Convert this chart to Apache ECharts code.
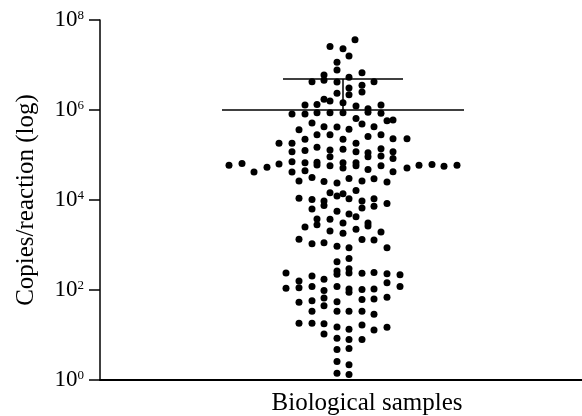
<!DOCTYPE html>
<html>
<head>
<meta charset="utf-8">
<script src="https://cdn.jsdelivr.net/npm/echarts@6/dist/echarts.min.js"></script>
<style>
  html, body { margin: 0; padding: 0; background: #fff; }
  #chart { width: 582px; height: 416px; }
</style>
</head>
<body>
<div id="chart"></div>
<script>
// swarm position (horizontal jitter of the beeswarm) and log10(copies/reaction)
const swarmX = [
  255, 230, 243, 249, 237, 237, 224, 262, 212, 224, 237, 249, 274, 262, 249, 237, 249, 262, 224, 230,
  243, 205, 217, 256, 268, 281, 192, 205, 217, 230, 243, 268, 281, 256, 287, 293, 199, 212, 224, 237,
  249, 262, 274, 205, 217, 230, 243, 268, 281, 293, 307, 179, 192, 217, 230, 243, 256, 268, 268, 281,
  281, 293, 293, 192, 205, 230, 256, 129, 142, 154, 167, 179, 192, 205, 217, 217, 230, 243, 243, 256,
  256, 268, 281, 293, 307, 319, 332, 344, 357, 192, 205, 199, 212, 224, 237, 249, 262, 274, 287, 230,
  237, 243, 256, 199, 212, 224, 224, 249, 262, 274, 287, 212, 237, 249, 256, 262, 274, 217, 230, 217,
  243, 268, 268, 205, 230, 243, 256, 281, 199, 212, 224, 237, 249, 262, 274, 287, 237, 249, 186, 199,
  212, 224, 237, 237, 249, 249, 262, 274, 287, 300, 186, 199, 212, 224, 237, 249, 249, 262, 274, 287,
  300, 199, 212, 224, 224, 237, 262, 274, 287, 212, 237, 249, 262, 274, 199, 212, 224, 237, 249, 262,
  274, 287, 224, 237, 249, 262, 237, 249, 237, 249, 237, 249
];
const logCopies = [
  7.56, 7.41, 7.36, 7.20, 7.06, 6.89, 6.78, 6.83, 6.63, 6.66, 6.62, 6.73, 6.63, 6.55, 6.49, 6.37, 6.34, 6.40, 6.24, 6.20,
  6.16, 6.11, 6.12, 6.09, 6.03, 6.11, 5.91, 5.91, 5.94, 5.94, 5.94, 5.95, 5.93, 5.81, 5.76, 5.78, 5.56, 5.71, 5.63, 5.62,
  5.57, 5.69, 5.63, 5.35, 5.45, 5.45, 5.35, 5.41, 5.45, 5.36, 5.36, 5.26, 5.26, 5.17, 5.11, 5.13, 5.26, 5.05, 4.96, 5.14,
  4.98, 5.07, 4.92, 5.07, 5.10, 4.96, 5.07, 4.77, 4.81, 4.62, 4.73, 4.80, 4.85, 4.83, 4.84, 4.78, 4.76, 4.83, 4.71, 4.83,
  4.76, 4.68, 4.76, 4.63, 4.71, 4.77, 4.79, 4.75, 4.77, 4.62, 4.65, 4.42, 4.50, 4.41, 4.38, 4.48, 4.42, 4.47, 4.40, 4.16,
  4.09, 4.14, 4.21, 4.04, 4.01, 3.98, 3.88, 4.03, 3.98, 4.03, 3.92, 3.80, 3.75, 3.69, 3.63, 3.82, 3.86, 3.58, 3.57, 3.45,
  3.49, 3.49, 3.42, 3.40, 3.31, 3.26, 3.35, 3.29, 3.13, 3.03, 3.05, 2.97, 2.94, 3.12, 3.11, 2.94, 2.63, 2.70, 2.38, 2.20,
  2.31, 2.24, 2.42, 2.35, 2.47, 2.38, 2.37, 2.39, 2.36, 2.34, 2.04, 2.05, 2.08, 1.99, 2.08, 2.02, 1.95, 2.01, 2.02, 2.16,
  2.08, 1.73, 1.76, 1.82, 1.65, 1.74, 1.79, 1.80, 1.84, 1.53, 1.53, 1.53, 1.53, 1.46, 1.26, 1.26, 1.25, 1.18, 1.13, 1.22,
  1.11, 1.17, 1.02, 0.93, 0.90, 0.90, 0.68, 0.70, 0.41, 0.34, 0.15, 0.12
];
// mean and mean + SD (log10), with the widths of the two bars in swarm units
const meanLog = 6.00;
const sdLog = 6.69;
const meanBar = [122, 364];
const sdBar = [183, 303];
const barCenter = 243;
const yTicks = [0, 2, 4, 6, 8];

const font = 'Liberation Serif';

let myChart = echarts.init(document.getElementById('chart'));

let points = swarmX.map((x, i) => [x, logCopies[i]]);

let option = {
    animation: false,
    grid: { left: 100, right: 0, top: 20, bottom: 36, outerBoundsMode: 'none' },
    xAxis: {
        type: 'value',
        min: 0,
        max: 482,
        name: 'Biological samples',
        nameLocation: 'middle',
        nameGap: 11,
        nameTextStyle: { fontFamily: font, fontSize: 25, color: '#000', padding: [0, 0, 0, 52] },
        axisLine: { lineStyle: { color: '#000', width: 1.8 } },
        axisTick: { show: false },
        axisLabel: { show: false },
        splitLine: { show: false }
    },
    yAxis: {
        type: 'value',
        min: yTicks[0],
        max: yTicks[yTicks.length - 1],
        interval: 2,
        name: 'Copies/reaction (log)',
        nameLocation: 'middle',
        nameGap: 61,
        nameTextStyle: { fontFamily: font, fontSize: 25, color: '#000' },
        axisLine: { show: true, lineStyle: { color: '#000', width: 1.5 } },
        axisTick: { show: true, length: 11, lineStyle: { color: '#000', width: 1.5 } },
        axisLabel: {
            margin: 16,
            formatter: v => '{b|10}{s|' + v + '}',
            rich: {
                b: { fontFamily: font, fontSize: 23, color: '#000', lineHeight: 23 },
                s: { fontFamily: font, fontSize: 13, color: '#000', verticalAlign: 'top', lineHeight: 16, padding: [1, 0, 0, 0] }
            }
        },
        splitLine: { show: false }
    },
    series: [
        {
            type: 'scatter',
            data: points,
            symbolSize: 7,
            itemStyle: { color: '#000', opacity: 1 }
        },
        {
            type: 'line',
            data: [[meanBar[0], meanLog], [meanBar[1], meanLog]],
            symbol: 'none',
            lineStyle: { color: '#000', width: 1.5 }
        },
        {
            type: 'line',
            data: [[sdBar[0], sdLog], [sdBar[1], sdLog]],
            symbol: 'none',
            lineStyle: { color: '#000', width: 1.5 }
        },
        {
            type: 'line',
            data: [[barCenter, meanLog], [barCenter, sdLog]],
            symbol: 'none',
            lineStyle: { color: '#000', width: 1.5 }
        }
    ]
};

myChart.setOption(option);
</script>
</body>
</html>
